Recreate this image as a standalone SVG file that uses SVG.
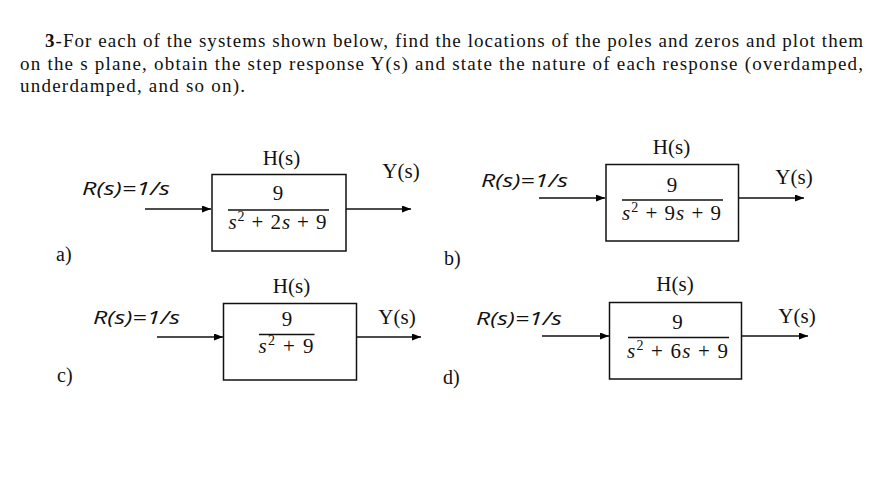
<svg xmlns="http://www.w3.org/2000/svg" width="884" height="490" viewBox="0 0 884 490">
<defs>
<marker id="ah" markerWidth="9" markerHeight="7" refX="9" refY="3.5" orient="auto" markerUnits="userSpaceOnUse">
<path d="M0,0 L9,3.5 L0,7 z" fill="#000"/>
</marker>
<style>
.title{font-family:"Liberation Serif",serif;font-size:19px;fill:#111}
.lbl{font-family:"Liberation Serif",serif;font-size:21px;fill:#111}
.inp{font-family:"Open Sans","Liberation Sans",sans-serif;font-style:italic;font-size:19px;fill:#111}
.frac{font-family:"Liberation Serif",serif;font-size:21px;fill:#111}
.it{font-style:italic}
.sup{font-size:14px}
.tag{font-family:"Liberation Serif",serif;font-size:20px;fill:#111}
.box{fill:#fff;stroke:#111;stroke-width:1.5}
.bar{stroke:#111;stroke-width:1.6}
.wire{stroke:#111;stroke-width:1.3;fill:none;marker-end:url(#ah)}
</style>
</defs>
<rect width="884" height="490" fill="#fff"/>
<g id="title">
<text class="title" x="45" y="47" textLength="818" lengthAdjust="spacing"><tspan font-weight="bold">3</tspan>-For each of the systems shown below, find the locations of the poles and zeros and plot them</text>
<text class="title" x="20" y="70" textLength="843" lengthAdjust="spacing">on the s plane, obtain the step response Y(s) and state the nature of each response (overdamped,</text>
<text class="title" x="20" y="92" textLength="225" lengthAdjust="spacing">underdamped, and so on).</text>
</g>
<g id="connectors">
<line class="wire" x1="145" y1="209" x2="211" y2="209"/>
<line class="wire" x1="346" y1="209" x2="411" y2="209"/>
<line class="wire" x1="539" y1="198" x2="605" y2="198"/>
<line class="wire" x1="739" y1="198" x2="804" y2="198"/>
<line class="wire" x1="157" y1="337" x2="223" y2="337"/>
<line class="wire" x1="357" y1="337" x2="421" y2="337"/>
<line class="wire" x1="542" y1="336" x2="609" y2="336"/>
<line class="wire" x1="742" y1="336" x2="808" y2="336"/>
</g>
<g id="sys-a">
<rect class="box" x="212" y="174.5" width="134" height="76.5"/>
<text class="lbl" x="281.5" y="165" text-anchor="middle">H(s)</text>
<text class="lbl" x="401" y="178" text-anchor="middle">Y(s)</text>
<text class="inp" x="82" y="195" textLength="88" lengthAdjust="spacingAndGlyphs">R(s)=1/s</text>
<text class="frac" x="278" y="200" text-anchor="middle">9</text>
<line class="bar" x1="228" y1="210" x2="329" y2="210"/>
<text class="frac" x="228.5" y="229" textLength="98" lengthAdjust="spacing"><tspan class="it">s</tspan><tspan class="sup" dy="-8">2</tspan><tspan dy="8"> + 2</tspan><tspan class="it">s</tspan> + 9</text>
<text class="tag" x="56" y="261">a)</text>
</g>
<g id="sys-b">
<rect class="box" x="606" y="164.5" width="132.5" height="76.5"/>
<text class="lbl" x="671.5" y="154" text-anchor="middle">H(s)</text>
<text class="lbl" x="794" y="184" text-anchor="middle">Y(s)</text>
<text class="inp" x="481" y="187" textLength="87" lengthAdjust="spacingAndGlyphs">R(s)=1/s</text>
<text class="frac" x="672" y="191.5" text-anchor="middle">9</text>
<line class="bar" x1="622" y1="200" x2="723" y2="200"/>
<text class="frac" x="622" y="220" textLength="99" lengthAdjust="spacing"><tspan class="it">s</tspan><tspan class="sup" dy="-8">2</tspan><tspan dy="8"> + 9</tspan><tspan class="it">s</tspan> + 9</text>
<text class="tag" x="444" y="265">b)</text>
</g>
<g id="sys-c">
<rect class="box" x="223.5" y="303.5" width="133" height="76.5"/>
<text class="lbl" x="291.5" y="292.5" text-anchor="middle">H(s)</text>
<text class="lbl" x="397" y="324" text-anchor="middle">Y(s)</text>
<text class="inp" x="93" y="324" textLength="87" lengthAdjust="spacingAndGlyphs">R(s)=1/s</text>
<text class="frac" x="287" y="326" text-anchor="middle">9</text>
<line class="bar" x1="259" y1="334.5" x2="314.5" y2="334.5"/>
<text class="frac" x="258.5" y="353" textLength="55" lengthAdjust="spacing"><tspan class="it">s</tspan><tspan class="sup" dy="-8">2</tspan><tspan dy="8"> + 9</tspan></text>
<text class="tag" x="57" y="382">c)</text>
</g>
<g id="sys-d">
<rect class="box" x="609.5" y="302.5" width="132" height="76.5"/>
<text class="lbl" x="675" y="291" text-anchor="middle">H(s)</text>
<text class="lbl" x="797" y="322.5" text-anchor="middle">Y(s)</text>
<text class="inp" x="476" y="324.5" textLength="86" lengthAdjust="spacingAndGlyphs">R(s)=1/s</text>
<text class="frac" x="677.5" y="328.5" text-anchor="middle">9</text>
<line class="bar" x1="628" y1="337.5" x2="729" y2="337.5"/>
<text class="frac" x="627" y="358" textLength="101" lengthAdjust="spacing"><tspan class="it">s</tspan><tspan class="sup" dy="-8">2</tspan><tspan dy="8"> + 6</tspan><tspan class="it">s</tspan> + 9</text>
<text class="tag" x="443" y="384">d)</text>
</g>
</svg>
